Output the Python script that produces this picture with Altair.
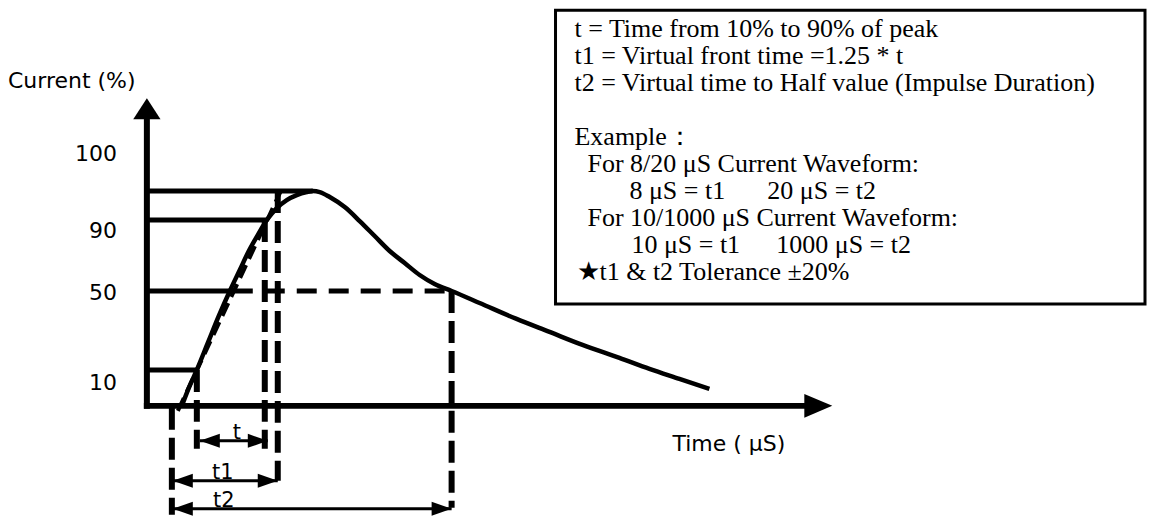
import altair as alt
import pandas as pd

# ---------------- data (diagram units: time offset from the current axis,
# current offset from the time axis) ----------------
wave_t = [35, 42, 50, 61, 72, 83, 93, 102, 111, 120, 130, 140, 150, 160, 166,
          173, 183, 198, 213, 228, 243, 258, 273, 288, 305, 333, 370, 403, 436,
          473, 503, 533, 563]
wave_i = [0, 18, 36, 63, 90, 115, 136, 155, 171, 186, 198, 206, 211, 214, 215,
          214, 209, 199, 185, 170, 155, 143, 131, 122, 115, 103, 87, 74, 61,
          48, 37, 27, 17]

front_t = [31, 134]          # virtual front line (through 10% and 90%)
front_i = [-5, 215]

level_i = [215, 186, 115, 36]     # peak, 90, 50, 10 levels
level_end = [166, 120, 86, 50]

half_start = [86]
half_end = [305]
half_level = [115]

drop_t = [25, 50, 118, 131, 305]
drop_top = [-2, 36, 186, 215, 115]
drop_bot = [-109, -43, -43, -75, -102]

span_names = ["t", "t1", "t2"]
span_i = [-35, -75, -103]
span_from = [53, 26, 26]
span_to = [121, 131, 305]
span_label_t = [90, 76, 77]

tick_labels = ["100", "90", "50", "10"]
tick_i = [252, 175, 113, 23]

axis_t_end = [660]
axis_t_tip = [686]
axis_i_end = [290]
axis_i_tip = [308]

y_title = ["Current (%)"]
x_title = ["Time ( μS)"]

box_texts = [
    "t = Time from 10% to 90% of peak",
    "t1 = Virtual front time =1.25 * t",
    "t2 = Virtual time to Half value (Impulse Duration)",
    "Example：",
    "For 8/20 μS Current Waveform:",
    "8 μS = t1",
    "20 μS = t2",
    "For 10/1000 μS Current Waveform:",
    "10 μS = t1",
    "1000 μS = t2",
    "★t1 & t2 Tolerance ±20%",
]
box_rows = [0, 1, 2, 4, 5, 6, 6, 7, 8, 8, 9]
box_cols = [428, 428, 428, 428, 441, 483, 621, 441, 485, 630, 430]
box_left, box_right, box_bottom, box_top = [409], [999], [102], [396]

# ---------------- scales ----------------
XS = alt.Scale(domain=[-139, 1000], nice=False, zero=False)
YS = alt.Scale(domain=[-109, 397], nice=False, zero=False)


def X(f):
    return alt.X(f, type="quantitative", scale=XS, axis=None)


def Y(f):
    return alt.Y(f, type="quantitative", scale=YS, axis=None)


def X2(f):
    return alt.X2(f)


def Y2(f):
    return alt.Y2(f)


BLACK = "#000000"
SANS = "DejaVu Sans"
SERIF = "Liberation Serif"

layers = []

# text box
box_df = pd.DataFrame({"x": box_left, "x2": box_right, "y": box_bottom, "y2": box_top})
layers.append(alt.Chart(box_df).mark_rect(fill="white", stroke=BLACK, strokeWidth=3).encode(
    x=X("x"), x2=X2("x2"), y=Y("y"), y2=Y2("y2")))

bt = pd.DataFrame({"txt": box_texts, "x": box_cols,
                   "y": [377 - 27 * r for r in box_rows]})
layers.append(alt.Chart(bt).mark_text(align="left", baseline="middle", font=SERIF,
                                      fontSize=26, color=BLACK).encode(
    x=X("x"), y=Y("y"), text="txt:N"))

# level lines
lv = pd.DataFrame({"x": [0] * len(level_i), "x2": level_end, "y": level_i})
layers.append(alt.Chart(lv).mark_rule(strokeWidth=5, color=BLACK).encode(
    x=X("x"), x2=X2("x2"), y=Y("y")))

hf = pd.DataFrame({"x": half_start, "x2": half_end, "y": half_level})
layers.append(alt.Chart(hf).mark_rule(strokeWidth=5, color=BLACK, strokeDash=[20, 12]).encode(
    x=X("x"), x2=X2("x2"), y=Y("y")))

# vertical dashed drop lines
dr = pd.DataFrame({"x": drop_t, "y": drop_top, "y2": drop_bot})
layers.append(alt.Chart(dr).mark_rule(strokeWidth=6, color=BLACK, strokeDash=[22, 8]).encode(
    x=X("x"), y=Y("y"), y2=Y2("y2")))

# virtual front line
fr = pd.DataFrame({"x": front_t, "y": front_i})
layers.append(alt.Chart(fr).mark_line(strokeWidth=4, color=BLACK, strokeDash=[14, 7]).encode(
    x=X("x"), y=Y("y")))

# waveform
wv = pd.DataFrame({"x": wave_t, "y": wave_i, "o": list(range(len(wave_t)))})
layers.append(alt.Chart(wv).mark_line(strokeWidth=4.5, color=BLACK, interpolate="monotone").encode(
    x=X("x"), y=Y("y"), order="o:Q"))

# axes
ax = pd.DataFrame({"x": [-3], "x2": axis_t_end, "y": [0]})
layers.append(alt.Chart(ax).mark_rule(strokeWidth=6, color=BLACK).encode(
    x=X("x"), x2=X2("x2"), y=Y("y")))
ay = pd.DataFrame({"x": [0], "y": [-3], "y2": axis_i_end})
layers.append(alt.Chart(ay).mark_rule(strokeWidth=6, color=BLACK).encode(
    x=X("x"), y=Y("y"), y2=Y2("y2")))

xh = pd.DataFrame({"x": axis_t_tip, "y": [0]})
layers.append(alt.Chart(xh).mark_point(shape="M0,0L-2,-0.85L-2,0.85Z", filled=True, size=784,
                                       color=BLACK, opacity=1, strokeWidth=0).encode(
    x=X("x"), y=Y("y")))
yh = pd.DataFrame({"x": [0], "y": axis_i_tip, "a": [270]})
layers.append(alt.Chart(yh).mark_point(shape="M0,0L-2,-1.3L-2,1.3Z", filled=True, size=441,
                                       color=BLACK, opacity=1, strokeWidth=0).encode(
    x=X("x"), y=Y("y"), angle=alt.Angle("a:Q", scale=None)))

# span arrows
sp = pd.DataFrame({"x": span_from, "x2": span_to, "y": span_i})
layers.append(alt.Chart(sp).mark_rule(strokeWidth=3, color=BLACK).encode(
    x=X("x"), x2=X2("x2"), y=Y("y")))
heads = pd.DataFrame({"x": span_from + span_to, "y": span_i + span_i,
                      "a": [180] * 3 + [0] * 3})
layers.append(alt.Chart(heads).mark_point(shape="M0,0L-2,-0.7L-2,0.7Z", filled=True, size=400,
                                          color=BLACK, opacity=1, strokeWidth=0).encode(
    x=X("x"), y=Y("y"), angle=alt.Angle("a:Q", scale=None)))
sl = pd.DataFrame({"txt": span_names, "x": span_label_t, "y": [v + 1.5 for v in span_i]})
layers.append(alt.Chart(sl).mark_text(align="center", baseline="alphabetic", font=SANS,
                                      fontSize=21, color=BLACK).encode(
    x=X("x"), y=Y("y"), text="txt:N"))

# tick labels and titles
tk = pd.DataFrame({"txt": tick_labels, "x": [-30] * 4, "y": tick_i})
layers.append(alt.Chart(tk).mark_text(align="right", baseline="middle", font=SANS,
                                      fontSize=22, color=BLACK).encode(
    x=X("x"), y=Y("y"), text="txt:N"))
yt = pd.DataFrame({"txt": y_title, "x": [-139], "y": [325]})
layers.append(alt.Chart(yt).mark_text(align="left", baseline="middle", font=SANS,
                                      fontSize=22, color=BLACK).encode(
    x=X("x"), y=Y("y"), text="txt:N"))
xt = pd.DataFrame({"txt": x_title, "x": [526], "y": [-38]})
layers.append(alt.Chart(xt).mark_text(align="left", baseline="middle", font=SANS,
                                      fontSize=22, color=BLACK).encode(
    x=X("x"), y=Y("y"), text="txt:N"))

chart = alt.layer(*layers).properties(width=1139, height=506, padding=0,
                                      background="white").configure_view(stroke=None)

chart.save("out.html", embed_options={"renderer": "svg", "actions": False})
